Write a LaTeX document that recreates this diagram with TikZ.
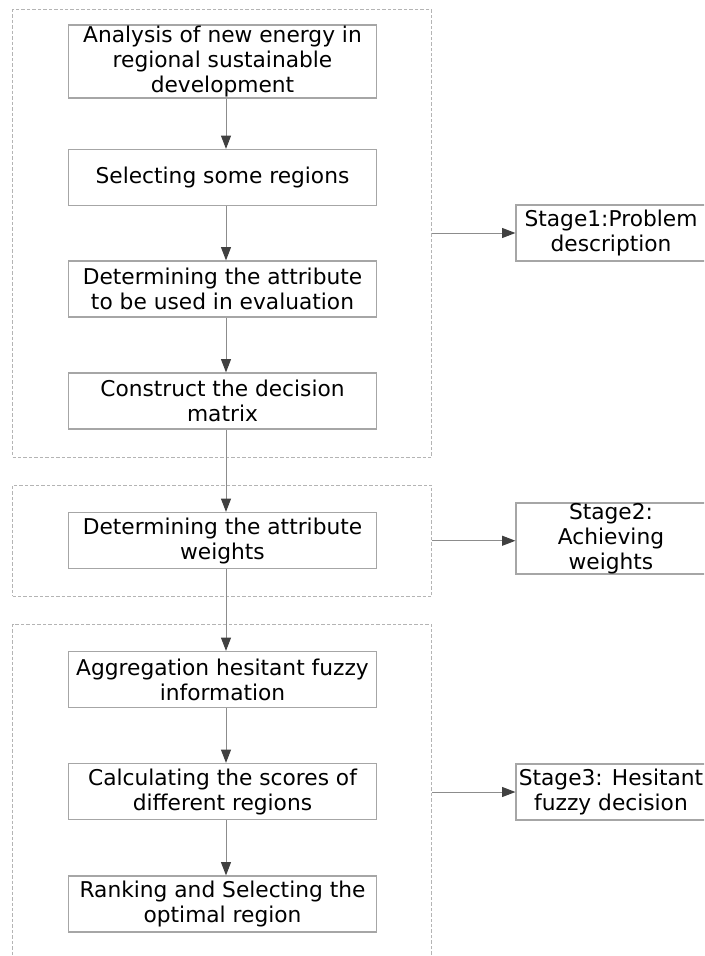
\documentclass[tikz,border=0pt]{standalone}
\usepackage{fontspec}
\setmainfont{DejaVu Sans}
\usetikzlibrary{arrows.meta}
\definecolor{boxgray}{HTML}{A6A6A6}
\definecolor{linegray}{HTML}{8C8C8C}
\definecolor{tipgray}{HTML}{404040}
\definecolor{dashgray}{HTML}{B4B4B4}
\tikzset{
	stepbox/.style={draw=boxgray, line width=0.9pt, minimum width=231pt, minimum height=42pt,
		align=center, inner sep=0pt, font=\fontsize{16.3}{18.75}\selectfont},
	stagebox/.style={stepbox, minimum width=142.5pt},
	groupbox/.style={draw=dashgray, dash pattern=on 2.6pt off 1.5pt, line width=0.75pt, inner sep=0pt},
	flow/.style={draw=linegray, line width=0.75pt, -{Triangle[length=10pt,width=7.5pt,color=tipgray]}}
}
\begin{document}
\begin{tikzpicture}[x=0.75pt,y=0.75pt]
		\useasboundingbox (0,0) rectangle (704,-956);
		\clip (0,0) rectangle (704,-956);
		% dashed stage frames
		\node[groupbox, minimum width=314.6pt, minimum height=335.25pt] (g1) at (222.25,-233.5) {};
		\node[groupbox, minimum width=314.6pt, minimum height=83.6pt] (g2) at (222.25,-540.75) {};
		\node[groupbox, minimum width=314.6pt, minimum height=281.6pt] (g3) at (222.25,-812.25) {};
		% steps
		\node[stepbox, minimum height=54.75pt] (b1) at (222.5,-61.5) {Analysis of new energy in\\regional sustainable\\development};
		\node[stepbox] (b2) at (222.5,-177.5) {Selecting some regions};
		\node[stepbox] (b3) at (222.5,-289) {Determining the attribute\\to be used in evaluation};
		\node[stepbox] (b4) at (222.5,-401) {Construct the decision\\matrix};
		\node[stepbox] (b5) at (222.5,-540.5) {Determining the attribute\\weights};
		\node[stepbox] (b6) at (222.5,-679.5) {Aggregation hesitant fuzzy\\information};
		\node[stepbox] (b7) at (222.5,-791.5) {Calculating the scores of\\different regions};
		\node[stepbox] (b8) at (222.5,-904) {Ranking and Selecting the\\optimal region};
		% stages
		\node[stagebox] (s1) at (611,-233) {Stage1:Problem\\description};
		\node[stagebox, minimum height=53.25pt] (s2) at (611,-538.5) {Stage2:\\Achieving\\weights};
		\node[stagebox] (s3) at (611,-792) {Stage3: Hesitant\\fuzzy decision};
		% connectors
		\coordinate (spine) at (226,0);
		\draw[flow] (b1.south -| spine) -- (b2.north -| spine);
		\draw[flow] (b2.south -| spine) -- (b3.north -| spine);
		\draw[flow] (b3.south -| spine) -- (b4.north -| spine);
		\draw[flow] (b4.south -| spine) -- (b5.north -| spine);
		\draw[flow] (b5.south -| spine) -- (b6.north -| spine);
		\draw[flow] (b6.south -| spine) -- (b7.north -| spine);
		\draw[flow] (b7.south -| spine) -- (b8.north -| spine);
		\draw[flow] (g1.east |- s1.west) -- (s1.west);
		\draw[flow] (g2.east) -- (s2.west |- g2.east);
		\draw[flow] (g3.east |- s3.west) -- (s3.west);
\end{tikzpicture}
\end{document}
